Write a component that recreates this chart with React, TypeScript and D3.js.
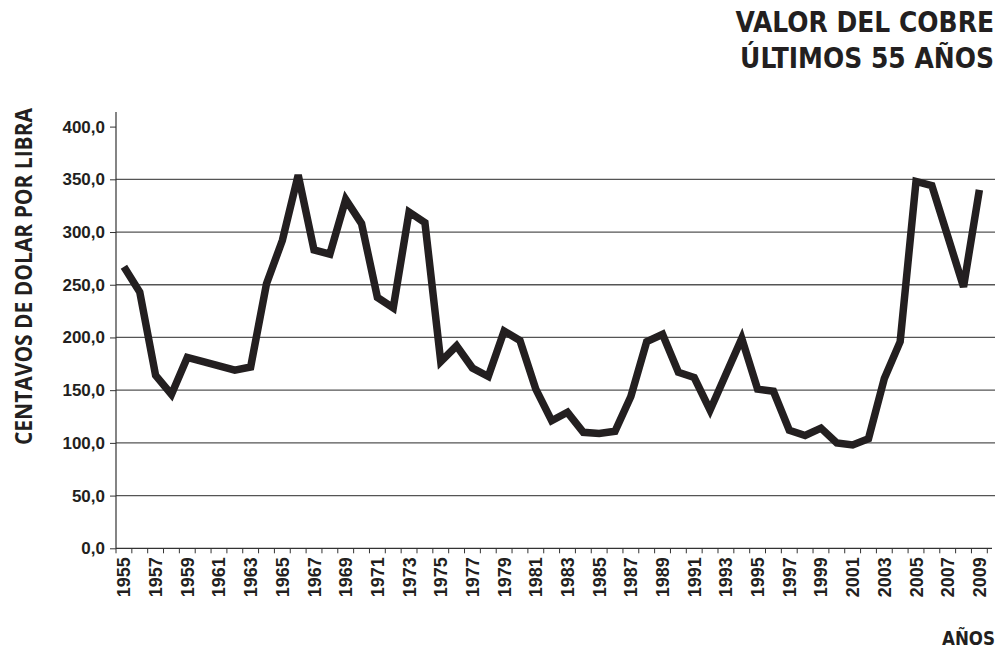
import React, { useEffect, useRef } from "react";
import * as d3 from "d3";

// copper price, cents of dollar per pound, 1955-2009
const years = d3.range(1955, 2010);
const prices = [
  267, 243, 164, 146, 181, 177, 173, 169, 172, 251,
  292, 354, 283, 279, 331, 308, 238, 228, 319, 309,
  177, 192, 171, 163, 206, 197, 151, 121, 129, 110,
  109, 111, 144, 196, 203, 167, 162, 131, 165, 199,
  151, 149, 112, 107, 114, 100, 98, 104, 161, 196,
  348, 344, 296, 248, 340,
];
const yTicks = [0, 50, 100, 150, 200, 250, 300, 350, 400];
const gridValues = [50, 100, 150, 200, 250, 300, 350];
const titleLines = ["VALOR DEL COBRE", "ÚLTIMOS 55 AÑOS"];

const ink = "#231f20";

const CopperChart: React.FC = () => {
  const ref = useRef<SVGSVGElement | null>(null);

  useEffect(() => {
    const svg = d3.select(ref.current);
    svg.selectAll("*").remove();

    const left = 116;
    const right = 987.3;
    const bottom = 548.3;

    const x = d3.scaleBand<number>().domain(years).range([left, right]).padding(0);
    const y = d3.scaleLinear().domain([0, 400]).range([bottom, 126.6]);
    const fmt = (v: number) => d3.format(".1f")(v).replace(".", ",");

    // grid
    svg
      .append("g")
      .selectAll("line")
      .data(gridValues)
      .enter()
      .append("line")
      .attr("x1", left)
      .attr("x2", 995)
      .attr("y1", (d) => y(d))
      .attr("y2", (d) => y(d))
      .attr("stroke", "#555")
      .attr("stroke-width", 1.3);

    // y axis
    const yAxis = svg.append("g").attr("transform", `translate(${left},0)`);
    yAxis
      .call(d3.axisLeft(y).tickValues(yTicks).tickFormat((d) => fmt(+d)).tickSize(6).tickPadding(5))
      .call((g) => g.select(".domain").remove());
    yAxis.selectAll(".tick line").attr("stroke", "#333");
    yAxis
      .selectAll(".tick text")
      .attr("font-family", "'Liberation Sans', Arial, sans-serif")
      .attr("font-weight", "bold")
      .attr("font-size", 17)
      .attr("fill", ink);
    svg
      .append("line")
      .attr("x1", left)
      .attr("x2", left)
      .attr("y1", 112)
      .attr("y2", bottom)
      .attr("stroke", "#333")
      .attr("stroke-width", 1.2);

    // x axis: ticks every year on band edges, labels every two years
    const xg = svg.append("g");
    xg.append("line")
      .attr("x1", left)
      .attr("x2", 992)
      .attr("y1", bottom)
      .attr("y2", bottom)
      .attr("stroke", "#333")
      .attr("stroke-width", 1.2);
    xg.selectAll("line.tk")
      .data(years.concat([2010]))
      .enter()
      .append("line")
      .attr("class", "tk")
      .attr("x1", (d) => (d === 2010 ? right : x(d)!))
      .attr("x2", (d) => (d === 2010 ? right : x(d)!))
      .attr("y1", bottom)
      .attr("y2", bottom + 5)
      .attr("stroke", "#333");
    xg.selectAll("text")
      .data(years.filter((d) => (d - 1955) % 2 === 0))
      .enter()
      .append("text")
      .attr(
        "transform",
        (d) => `translate(${x(d)! + x.bandwidth() / 2 + 6.5},${bottom + 9}) rotate(-90)`
      )
      .attr("text-anchor", "end")
      .attr("font-family", "'Liberation Sans', Arial, sans-serif")
      .attr("font-weight", "bold")
      .attr("font-size", 18)
      .attr("fill", ink)
      .text((d) => d);

    // price line
    const line = d3
      .line<number>()
      .x((_, i) => x(years[i])! + x.bandwidth() / 2)
      .y((d) => y(d));
    svg
      .append("path")
      .datum(prices)
      .attr("d", line)
      .attr("fill", "none")
      .attr("stroke", ink)
      .attr("stroke-width", 7.5)
      .attr("stroke-linejoin", "miter")
      .attr("stroke-miterlimit", 4);

    // y title
    svg
      .append("text")
      .attr("transform", "translate(31.5,276.5) rotate(-90)")
      .attr("text-anchor", "middle")
      .attr("font-family", "'Open Sans', 'DejaVu Sans Condensed', sans-serif")
      .attr("font-weight", 700)
      .attr("font-size", 23)
      .attr("textLength", 337)
      .attr("lengthAdjust", "spacingAndGlyphs")
      .attr("fill", ink)
      .text("CENTAVOS DE DOLAR POR LIBRA");

    // title
    svg
      .append("g")
      .selectAll("text")
      .data(titleLines)
      .enter()
      .append("text")
      .attr("x", 994)
      .attr("y", (_, i) => 32 + i * 36)
      .attr("text-anchor", "end")
      .attr("font-family", "'DejaVu Sans Condensed', 'DejaVu Sans', sans-serif")
      .attr("font-weight", "bold")
      .attr("font-size", 27.8)
      .attr("fill", ink)
      .text((d) => d);

    svg
      .append("text")
      .attr("x", 995)
      .attr("y", 645)
      .attr("text-anchor", "end")
      .attr("font-family", "'DejaVu Sans Condensed', 'DejaVu Sans', sans-serif")
      .attr("font-weight", "bold")
      .attr("font-size", 20)
      .attr("textLength", 53)
      .attr("lengthAdjust", "spacingAndGlyphs")
      .attr("fill", ink)
      .text("AÑOS");
  }, []);

  return (
    <svg
      ref={ref}
      width={1003}
      height={649}
      style={{ position: "absolute", left: 0, top: 0, background: "#fff" }}
    ></svg>
  );
};

export default function App() {
  return <CopperChart />;
}
